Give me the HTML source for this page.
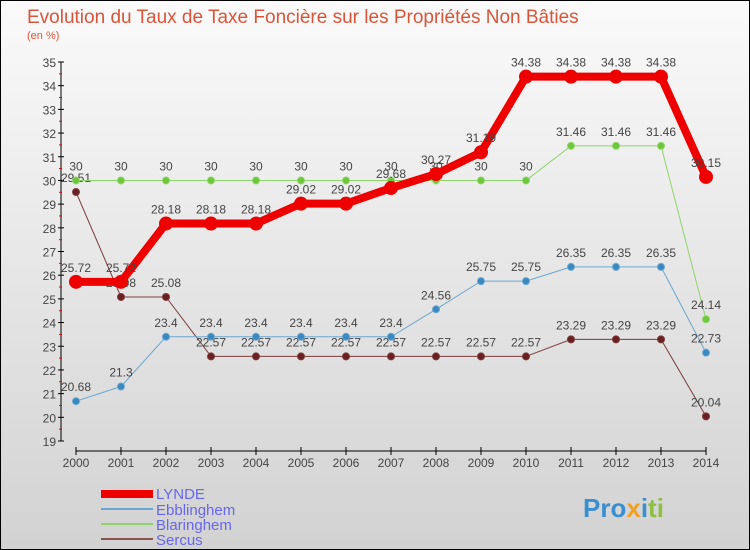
<!DOCTYPE html>
<html><head><meta charset="utf-8"><style>
body{margin:0}
#c{position:relative;width:748px;height:548px;border:1px solid #000;background:linear-gradient(#fafafa,#d2d2d2);font-family:"Liberation Sans",sans-serif;overflow:hidden}
</style></head><body>
<div id="c">
<svg id="s" width="748" height="548" xmlns="http://www.w3.org/2000/svg">
<text x="26" y="22" font-size="19" fill="#d8553a">Evolution du Taux de Taxe Foncière sur les Propriétés Non Bâties</text>
<text x="26" y="38" font-size="11" fill="#d8553a">(en %)</text>
<g id="g"></g>
<g>
<rect x="100" y="489" width="52" height="8" fill="#e00"/>
<text x="155" y="498" font-size="15" fill="#6666ee">LYNDE</text>
<rect x="100" y="507" width="52" height="2" fill="#6aa6cf"/>
<text x="155" y="514" font-size="15" fill="#6666ee">Ebblinghem</text>
<rect x="100" y="522" width="52" height="2" fill="#8fd46a"/>
<text x="155" y="529" font-size="15" fill="#6666ee">Blaringhem</text>
<rect x="100" y="537" width="52" height="2" fill="#8b5050"/>
<text x="155" y="544" font-size="15" fill="#6666ee">Sercus</text>
</g>
<text x="582" y="516" font-size="26" font-weight="bold" fill="#3a8fd0">Pro<tspan fill="#f0a020">x</tspan><tspan fill="#3a8fd0">i</tspan><tspan fill="#8cc040">ti</tspan></text>
</svg>
</div>
<script>
const years=[2000,2001,2002,2003,2004,2005,2006,2007,2008,2009,2010,2011,2012,2013,2014];
const yTicks=[19,20,21,22,23,24,25,26,27,28,29,30,31,32,33,34,35];
const lynde=[25.72,25.72,28.18,28.18,28.18,29.02,29.02,29.68,30.27,31.19,34.38,34.38,34.38,34.38,30.15];
const ebblinghem=[20.68,21.3,23.4,23.4,23.4,23.4,23.4,23.4,24.56,25.75,25.75,26.35,26.35,26.35,22.73];
const blaringhem=[30,30,30,30,30,30,30,30,30,30,30,31.46,31.46,31.46,24.14];
const sercus=[29.51,25.08,25.08,22.57,22.57,22.57,22.57,22.57,22.57,22.57,22.57,23.29,23.29,23.29,20.04];
const NS="http://www.w3.org/2000/svg";
const g=document.getElementById('g');
const X=i=>75+i*45;
const Y=v=>440-(v-19)*(379/16);
function mk(t,a){const e=document.createElementNS(NS,t);for(const k in a)e.setAttribute(k,a[k]);g.appendChild(e);return e;}
let e=mk('line',{x1:60,y1:61,x2:60,y2:440,stroke:'#000'});


e=mk('line',{x1:75,y1:450,x2:705,y2:450,stroke:'#000'});


yTicks.forEach(v=>{
 let t=mk('line',{x1:57,y1:Y(v),x2:63,y2:Y(v),stroke:'#000'});
 
 
 if(v<35){let m=mk('line',{x1:58,y1:Y(v+0.5),x2:61,y2:Y(v+0.5),stroke:'#e00'});
 
 }
 let l=mk('text',{x:55,y:Y(v)+5,'font-size':12,fill:'#444','text-anchor':'end'});
 l.textContent=v;
 
 
});
years.forEach((yr,i)=>{
 let t=mk('line',{x1:X(i),y1:446,x2:X(i),y2:454,stroke:'#000'});
 
 
 let l=mk('text',{x:X(i),y:466,'font-size':12,fill:'#444','text-anchor':'middle'});
 l.textContent=yr;
 
 
});
function series(d,name,color,w,r,dot){
 const p=mk('polyline',{points:d.map((v,i)=>X(i)+','+Y(v)).join(' '),fill:'none',stroke:color,'stroke-width':w});
 
 
 d.forEach((v,i)=>{
  const c=mk('circle',{cx:X(i),cy:Y(v),r:r,fill:dot,stroke:color,'stroke-width':1});
  
  
  const t=mk('text',{x:X(i),y:Y(v)-10,'font-size':12,fill:'#444','text-anchor':'middle'});
  t.textContent=v;
  
  
 });
}
series(sercus,'sercus','#7a3a3a',1,3.5,'#6a2020');
series(blaringhem,'blaringhem','#8fd46a',1,3.5,'#6cc83a');
series(ebblinghem,'ebblinghem','#6aa6cf',1,3.5,'#3a88c0');
series(lynde,'lynde','#e00',8,6.5,'#e00');
</script>
</body></html>
